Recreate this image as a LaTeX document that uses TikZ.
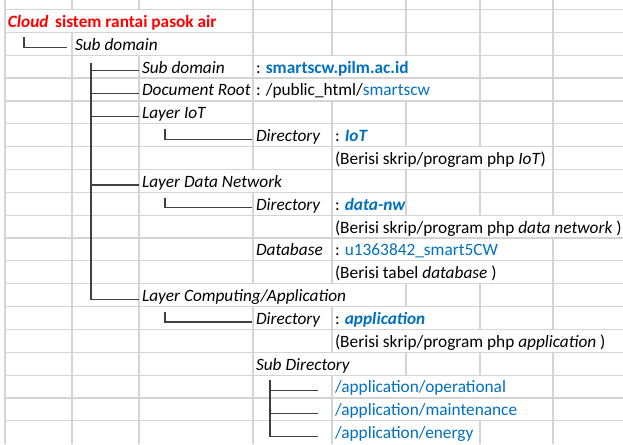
\documentclass[tikz,border=0pt]{standalone}
\usepackage{fontspec}
\setmainfont{Carlito}
\definecolor{xlblue}{RGB}{0,112,192}
\definecolor{gridgray}{RGB}{212,212,212}
\definecolor{treegray}{RGB}{64,64,64}
\begin{document}
\begin{tikzpicture}
  [x=1pt,y=-1pt,
   gridline/.style={gridgray,line width=1.2pt},
   branch/.style={treegray,line width=1.2pt},
   cell/.style={anchor=base west,inner sep=0pt,outer sep=0pt,
     text height=12pt,text depth=4pt,font=\fontsize{17.3}{20}\selectfont}]
  \fill[white] (0,0) rectangle (623,444);
  \useasboundingbox (0,0) rectangle (623,444);
  % sheet grid, hidden where text runs over
  \foreach \k in {0,...,18}
    \draw[gridline] (5,{9.5+22.85*\k}) -- (623,{9.5+22.85*\k});
  \foreach \x in {5,72,139,253,332,406,480,553}
    \draw[gridline] (\x,0) -- (\x,9.5);
  \foreach \r/\xs in {1/{5,253,332,406,480,553},
                      2/{5,72,253,332,406,480,553},
                      3/{5,72,139,253,480,553},
                      4/{5,72,139,253,480,553},
                      5/{5,72,139,253,332,406,480,553},
                      6/{5,72,139,253,332,406,480,553},
                      7/{5,72,139,253,332,553},
                      8/{5,72,139,332,406,480,553},
                      9/{5,72,139,253,332,406,480,553},
                      10/{5,72,139,253,332},
                      11/{5,72,139,253,332,553},
                      12/{5,72,139,253,332,553},
                      13/{5,72,139,406,480,553},
                      14/{5,72,139,253,332,480,553},
                      15/{5,72,139,253,332},
                      16/{5,72,139,253,406,480,553},
                      17/{5,72,139,253,332,553},
                      18/{5,72,139,253,332,553},
                      19/{5,72,139,253,332,480,553}}
    \foreach \x in \xs
      \draw[gridline] (\x,{9.5+22.85*(\r-1)}) -- (\x,{9.5+22.85*\r});
  % cell texts
  \matrix (tbl) [matrix anchor=north west,inner sep=0pt,outer sep=0pt,
    row sep={22.85pt,between origins},nodes={cell}] at (8,15.35)
  {
    \node (title) {\color{red}\textbf{\textit{Cloud}}\hspace{0.15em} \textbf{sistem rantai pasok air}};
      &[67pt,between origins] &[67pt,between origins] &[114pt,between origins] &[79pt,between origins] \\
    & \node (sd) {\textit{Sub domain}}; \\
    & & \node (sdom) {\textit{Sub domain}}; & \node (sdval) {: \textbf{\textcolor{xlblue}{smartscw.pilm.ac.id}}}; \\
    & & \node (docroot) {\textit{Document Root}}; & \node (rootval) {: /public\_html/\textcolor{xlblue}{smartscw}}; \\
    & & \node (liot) {\textit{Layer IoT}}; \\
    & & & \node (iotdir) {\textit{Directory}}; & \node (iotval) {: \textcolor{xlblue}{\textbf{\textit{IoT}}}}; \\
    & & & & \node (iotnote) {(Berisi skrip/program php \textit{IoT})}; \\
    & & \node (ldata) {\textit{Layer Data Network}}; \\
    & & & \node (nwdir) {\textit{Directory}}; & \node (nwval) {: \textcolor{xlblue}{\textbf{\textit{data-nw}}}}; \\
    & & & & \node (nwnote) {(Berisi skrip/program php \textit{data network} )}; \\
    & & & \node (db) {\textit{Database}}; & \node (dbval) {: \textcolor{xlblue}{u1363842\_smart5CW}}; \\
    & & & & \node (dbnote) {(Berisi tabel \textit{database} )}; \\
    & & \node (lcomp) {\textit{Layer Computing/Application}}; \\
    & & & \node (appdir) {\textit{Directory}}; & \node (appval) {: \textcolor{xlblue}{\textbf{\textit{application}}}}; \\
    & & & & \node (appnote) {(Berisi skrip/program php \textit{application} )}; \\
    & & & \node (subdir) {\textit{Sub Directory}}; \\
    & & & & \node (oper) {\textcolor{xlblue}{/application/operational}}; \\
    & & & & \node (maint) {\textcolor{xlblue}{/application/maintenance}}; \\
    & & & & \node (energy) {\textcolor{xlblue}{/application/energy}}; \\
  };
  % tree lines
  \coordinate (sdtop) at (24,37.5);
  \coordinate (maintop) at (91,62.5);
  \coordinate (iottop) at (165,128.5);
  \coordinate (nwtop) at (165,197.5);
  \coordinate (apptop) at (165,312);
  \coordinate (subtop) at (270,380);
  \draw[branch] (sdtop) |- ([xshift=-8pt]sd.mid west);
  \draw[branch] (maintop) |- ([xshift=-3pt]lcomp.mid west);
  \foreach \n in {sdom,docroot,liot,ldata}
    \draw[branch] (maintop |- \n.mid west) -- ([xshift=-3pt]\n.mid west);
  \draw[branch] (iottop) |- ([xshift=-4pt]iotdir.mid west);
  \draw[branch] (nwtop) |- ([xshift=-4pt]nwdir.mid west);
  \draw[branch] (apptop) |- ([xshift=-4pt]appdir.mid west);
  \draw[branch] (subtop) |- ([xshift=-17pt]energy.mid west);
  \foreach \n in {oper,maint}
    \draw[branch] (subtop |- \n.mid west) -- ([xshift=-17pt]\n.mid west);
\end{tikzpicture}
\end{document}
